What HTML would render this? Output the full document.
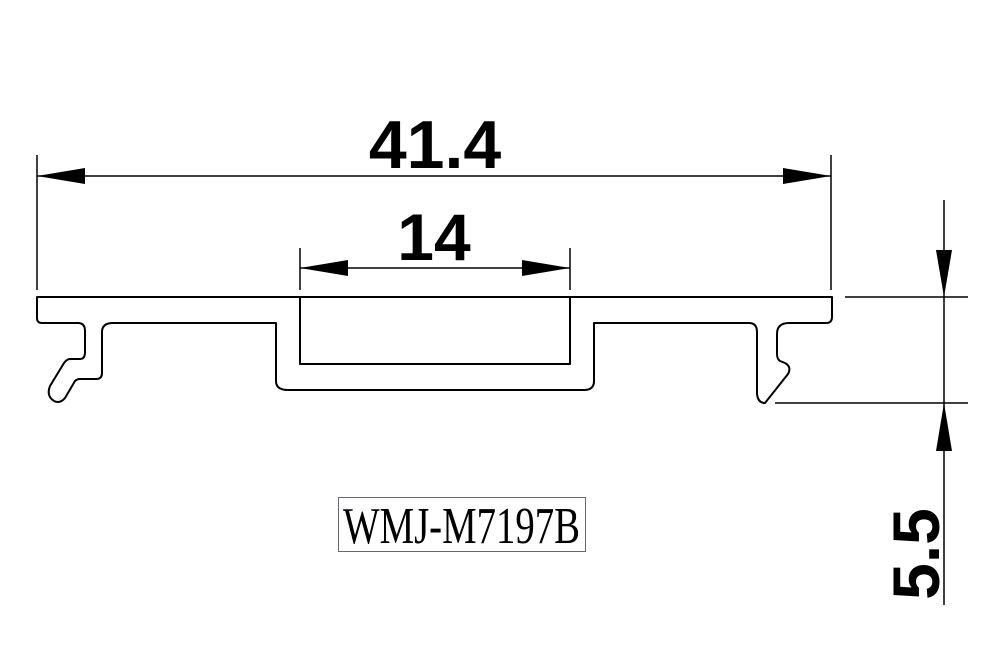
<!DOCTYPE html>
<html><head><style>
html,body{margin:0;padding:0;background:#fff;width:992px;height:666px;overflow:hidden}
</style></head><body>
<svg width="992" height="666" viewBox="0 0 992 666" xmlns="http://www.w3.org/2000/svg">
<g fill="none" stroke="#000" stroke-width="2" stroke-linejoin="round">
<path d="M37,297 L37,318 Q37,323 42,323 L78,323 Q85,323 85,331 L85,352 Q85,359 80,359 L70,359 Q67,359 64,363 L50,386 Q46,396 54,401 Q60,404 65,398 L75,381 Q77,379 80,379 L96,379 Q102,379 102,373 L102,332 Q102,323 113,323 L276,323 L276,381 Q276,390 288,390 L584,390 Q594,390 594,381 L594,323 L749,323 Q757,323 757,332 L757,394 Q758,403 765,403 L788,374 Q792,367 785,363 L780,361 Q777,359 777,354 L777,334 Q777,323 789,323 L826,323 Q832,323 832,317 L832,297 Z"/>
<path d="M300,297 L300,364 L570,364 L570,297"/>
</g>
<g stroke="#000" stroke-width="1.5" fill="none">
<line x1="37" y1="155" x2="37" y2="290"/>
<line x1="831" y1="155" x2="831" y2="290"/>
<line x1="37" y1="176" x2="831" y2="176"/>
<line x1="300" y1="248" x2="300" y2="290"/>
<line x1="570" y1="248" x2="570" y2="290"/>
<line x1="300" y1="268" x2="570" y2="268"/>
<line x1="845" y1="297" x2="968" y2="297"/>
<line x1="775" y1="403" x2="968" y2="403"/>
<line x1="944" y1="200" x2="944" y2="605"/>
</g>
<g fill="#000">
<polygon points="37,176 85,168 85,184"/>
<polygon points="831,176 783,168 783,184"/>
<polygon points="300,268 348,260 348,276"/>
<polygon points="570,268 522,260 522,276"/>
<polygon points="944,297 936,250 952,250"/>
<polygon points="944,403 936,451 952,451"/>
</g>
<g font-family="Liberation Sans, sans-serif" font-weight="bold" fill="#000">
<text x="435" y="168" font-size="68" text-anchor="middle">41.4</text>
<text x="434" y="260" font-size="66" text-anchor="middle">14</text>
<text transform="translate(939,554) rotate(-90)" font-size="66" text-anchor="middle">5.5</text>
</g>
<rect x="338.5" y="497.5" width="247" height="54" fill="none" stroke="#667" stroke-width="1"/>
<text x="343" y="543" font-family="Liberation Serif, serif" font-size="52" textLength="237" lengthAdjust="spacingAndGlyphs" fill="#000">WMJ-M7197B</text>
</svg>
</body></html>
